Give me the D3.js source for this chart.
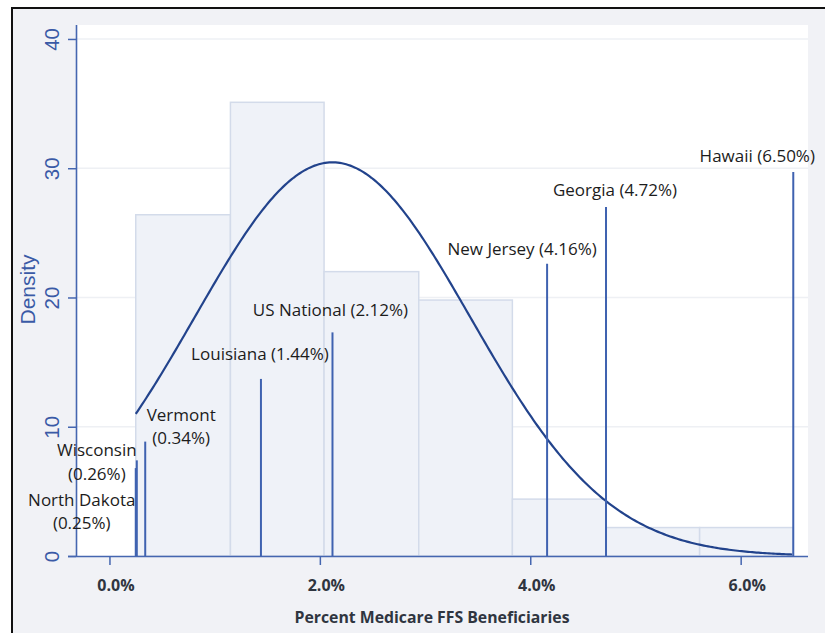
<!DOCTYPE html>
<html lang="en">
<head>
<meta charset="UTF-8">
<title>Percent Medicare FFS Beneficiaries</title>
<style>
  body { margin: 0; background: #fff; }
  svg { display: block; }
</style>
</head>
<body>
<svg id="chart"></svg>
<script src="https://d3js.org/d3.v7.min.js"></script>
<script>
// histogram bins (percent) and their density
const binEdges = [0.25, 1.15, 2.04, 2.94, 3.83, 4.72, 5.61, 6.50];
const binDensity = [26.4, 35.1, 22.0, 19.8, 4.4, 2.2, 2.2];

// marked states
const states = ['North Dakota', 'Wisconsin', 'Vermont', 'Louisiana', 'US National', 'New Jersey', 'Georgia', 'Hawaii'];
const statePct = [0.25, 0.26, 0.34, 1.44, 2.12, 4.16, 4.72, 6.50];
const spikeHeight = [6.8, 7.4, 8.85, 13.7, 17.3, 22.6, 27.0, 29.7];

// normal overlay (percent)
const curveMean = 2.12;
const curveSd = 1.31;

const xTicks = [0, 2, 4, 6];
const yTicks = [0, 10, 20, 30, 40];

// label placement relative to top of spike: dx, dy (px), two lines or not
const labelLayout = [
  { dx: -54, dy: 38, wrap: true },
  { dx: -40, dy: -4, wrap: true },
  { dx: 36, dy: -21, wrap: true },
  { dx: -1, dy: -19, wrap: false },
  { dx: -2, dy: -16, wrap: false },
  { dx: -25, dy: -9, wrap: false },
  { dx: 9, dy: -11, wrap: false },
  { dx: -36, dy: -10, wrap: false },
];

const W = 825, H = 633;
const svg = d3.select('#chart').attr('width', W).attr('height', H);

// outer background + frame
svg.append('rect').attr('x', 12).attr('y', 8).attr('width', W).attr('height', H)
  .attr('fill', '#f1f2f6').attr('stroke', '#111').attr('stroke-width', 2);

const plot = { left: 76, right: 808, top: 25, bottom: 556 };

const x = d3.scaleLinear().domain([-0.318, 6.64]).range([plot.left, plot.right]);
const y = d3.scaleLinear().domain([0, 41.08]).range([plot.bottom, plot.top]);

svg.append('rect')
  .attr('x', plot.left).attr('y', plot.top)
  .attr('width', plot.right - plot.left).attr('height', plot.bottom - plot.top)
  .attr('fill', '#fff');

// grid
svg.append('g').selectAll('line').data(yTicks.slice(1)).join('line')
  .attr('x1', plot.left).attr('x2', plot.right)
  .attr('y1', d => y(d)).attr('y2', d => y(d))
  .attr('stroke', '#eef0f4').attr('stroke-width', 1.5);

// histogram
const bins = binDensity.map((d, i) => ({ x0: binEdges[i], x1: binEdges[i + 1], v: d }));
svg.append('g').selectAll('rect').data(bins).join('rect')
  .attr('x', d => x(d.x0))
  .attr('y', d => y(d.v))
  .attr('width', d => x(d.x1) - x(d.x0))
  .attr('height', d => y(0) - y(d.v))
  .attr('fill', '#eff2f8')
  .attr('stroke', '#d3dbea')
  .attr('stroke-width', 1.5);

// normal density curve (x in percent, density per unit proportion)
const sdFrac = curveSd / 100;
const pdf = p => Math.exp(-0.5 * Math.pow((p - curveMean) / curveSd, 2)) / (sdFrac * Math.sqrt(2 * Math.PI));
const curvePts = d3.range(binEdges[0], binEdges[binEdges.length - 1] + 0.001, 0.02).map(p => [p, pdf(p)]);
svg.append('path')
  .datum(curvePts)
  .attr('fill', 'none')
  .attr('stroke', '#22438c')
  .attr('stroke-width', 2.2)
  .attr('d', d3.line().x(d => x(d[0])).y(d => y(d[1])));

// spikes
svg.append('g').selectAll('line').data(statePct).join('line')
  .attr('x1', d => x(d)).attr('x2', d => x(d))
  .attr('y1', y(0)).attr('y2', (d, i) => y(spikeHeight[i]))
  .attr('stroke', '#3f62b0').attr('stroke-width', 2);

// axes
const axisColor = '#4566b0';
const gx = svg.append('g')
  .attr('transform', `translate(0,${plot.bottom})`)
  .call(d3.axisBottom(x).tickValues(xTicks).tickSize(9).tickFormat(d => d.toFixed(1) + '%'));
gx.select('.domain').attr('d', `M${plot.left - 8},0.5H${plot.right}`).attr('stroke', axisColor).attr('stroke-width', 1.6);
gx.selectAll('.tick line').attr('stroke', axisColor).attr('stroke-width', 1.5);
gx.selectAll('.tick text')
  .attr('dx', 6).attr('y', 24)
  .attr('fill', '#2f3540')
  .style('font-family', '"Open Sans", sans-serif')
  .style('font-size', '16px').style('font-weight', 'bold');

const gy = svg.append('g')
  .attr('transform', `translate(${plot.left},0)`)
  .call(d3.axisLeft(y).tickValues(yTicks).tickSize(8));
gy.select('.domain').attr('d', `M0.5,${plot.top}V${plot.bottom}`).attr('stroke', axisColor).attr('stroke-width', 1.6);
gy.selectAll('.tick line').attr('stroke', axisColor).attr('stroke-width', 1.5);
gy.selectAll('.tick text')
  .attr('x', 0).attr('dy', 0)
  .attr('transform', 'translate(-17,0) rotate(-90)')
  .attr('text-anchor', 'middle')
  .attr('fill', '#3a5aa6')
  .style('font-family', '"Liberation Sans", Arial, sans-serif')
  .style('font-size', '20.5px');

// axis titles
svg.append('text')
  .attr('transform', `translate(35,${y(20) - 8}) rotate(-90)`)
  .attr('text-anchor', 'middle')
  .attr('fill', '#3a5aa6')
  .style('font-family', '"Liberation Sans", Arial, sans-serif')
  .style('font-size', '21px')
  .text('Density');

svg.append('text')
  .attr('x', 432).attr('y', 623)
  .attr('text-anchor', 'middle')
  .attr('fill', '#2f3540')
  .attr('textLength', 275).attr('lengthAdjust', 'spacingAndGlyphs')
  .style('font-family', '"Open Sans", sans-serif')
  .style('font-size', '16.5px').style('font-weight', 'bold')
  .text('Percent Medicare FFS Beneficiaries');

// state labels
const lbl = svg.append('g')
  .style('font-family', '"Open Sans", sans-serif')
  .style('font-size', '17px')
  .attr('fill', '#1c1c1c')
  .attr('text-anchor', 'middle');

states.forEach((name, i) => {
  const L = labelLayout[i];
  const pct = '(' + statePct[i].toFixed(2) + '%)';
  const t = lbl.append('text')
    .attr('x', x(statePct[i]) + L.dx)
    .attr('y', y(spikeHeight[i]) + L.dy);
  if (L.wrap) {
    t.append('tspan').attr('x', x(statePct[i]) + L.dx).text(name);
    t.append('tspan').attr('x', x(statePct[i]) + L.dx).attr('dy', 23.3).text(pct);
  } else {
    t.text(name + ' ' + pct);
  }
});
</script>
</body>
</html>
